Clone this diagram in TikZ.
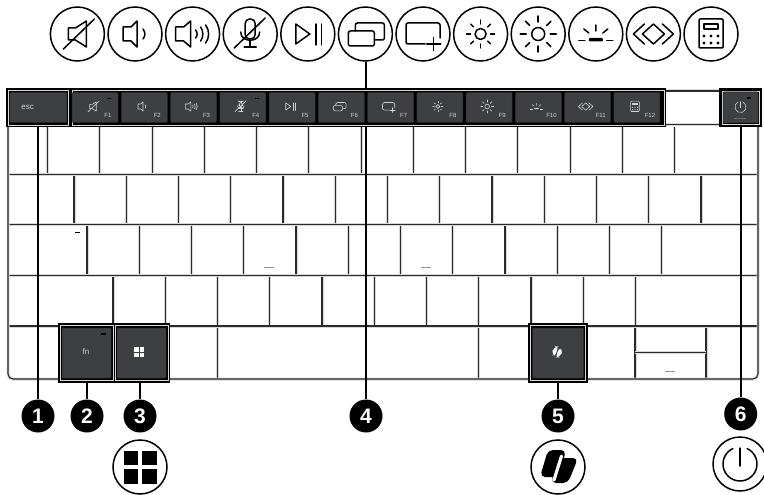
\documentclass[tikz,border=0pt]{standalone}
\usepackage{fontspec}
\usepackage{tikz}
\usetikzlibrary{calc,positioning}
\setmainfont{Liberation Sans}
\definecolor{keydark}{HTML}{3D3F41}
\definecolor{keyrule}{HTML}{2A2A2A}
\definecolor{keyshade}{HTML}{D8D8D8}
\definecolor{keytext}{HTML}{D2D2D2}
\colorlet{iconback}{white}
\tikzset{
 iconpen/.style={line width=1.5pt,line cap=round,line join=round},
 gappen/.style={line width=3.2pt},
 smallicon/.style={iconpen/.style={line width=.6pt,line cap=round,line join=round},gappen/.style={line width=1pt}},
 mute/.pic={
  \draw[iconpen] (-9,-6)--(-2,-6)--(9,-13)--(9,13)--(-2,6)--(-9,6)--cycle;
  \draw[iconpen] (-14,15)--(17,-15);},
 voldown/.pic={
  \draw[iconpen] (-12,-7)--(-4,-7)--(2,-13)--(2,13)--(-4,7)--(-12,7)--cycle;
  \draw[iconpen] (8,-5) .. controls (10.5,-2) and (10.5,2) .. (8,5);},
 volup/.pic={
  \draw[iconpen] (-17,-7)--(-9,-7)--(-2,-13)--(-2,13)--(-9,7)--(-17,7)--cycle;
  \draw[iconpen] (3,-4) .. controls (5,-2) and (5,2) .. (3,4);
  \draw[iconpen] (8,-7) .. controls (11,-3) and (11,3) .. (8,7);
  \draw[iconpen] (13,-9) .. controls (17,-4) and (17,4) .. (13,9);},
 micoff/.pic={
  \draw[iconpen,rounded corners=4.5] (-5,-15) rectangle (5,5);
  \draw[iconpen] (-9.5,-2) .. controls (-9.5,9) and (9.5,9) .. (9.5,-2);
  \draw[iconpen] (0,7)--(0,13) (-6,13)--(6,13);
  \draw[iconpen] (-16,14)--(15,-16);},
 playpause/.pic={
  \draw[iconpen] (-12,-10)--(2,0)--(-12,10)--cycle;
  \draw[iconpen] (8,-10)--(8,11) (13.7,-10)--(13.7,11);},
 windows/.pic={
  \draw[iconpen,rounded corners=2] (-17,-3) rectangle (9,12);
  \draw[iconpen,rounded corners=2] (-10,-3)--(-10,-11)--(19,-11)--(19,6)--(10,6);},
 addwindow/.pic={
  \draw[iconpen,rounded corners=2] (2,10)--(-17,10)--(-17,-11)--(17,-11)--(17,4);
  \draw[iconpen] (3.7,10)--(17.7,10) (10.7,3.5)--(10.7,16.5);},
 sunlow/.pic={
  \draw[iconpen] (0,0) circle (5.5);
  \foreach \a in {0,45,...,315} \draw[iconpen] (\a:10)--(\a:14);},
 sunhigh/.pic={
  \draw[iconpen] (0,0) circle (6.5);
  \foreach \a in {0,45,...,315} \draw[iconpen] (\a:12)--(\a:18);},
 kbdlight/.pic={
  \fill[rounded corners=1] (-7,4) rectangle (7,7.5);
  \draw[iconpen] (-17,6.5)--(-11,6.5) (11,6.5)--(17,6.5);
  \draw[iconpen] (0,-9)--(0,-3) (-12,-5)--(-7,-1) (12,-5)--(7,-1);},
 diamonds/.pic={
  \draw[iconpen] (0,-10)--(11,0)--(0,10)--(-11,0)--cycle;
  \draw[iconpen] (-9,-10)--(-20,0)--(-9,10) (9,-10)--(20,0)--(9,10);},
 calculator/.pic={
  \draw[iconpen,rounded corners=1] (-12,-15) rectangle (12,14);
  \draw[iconpen] (-7,-10) rectangle (7,-5);
  \foreach \x in {-7,0,7} \foreach \y in {2,9} \fill (\x,\y) circle (1.7);},
 winlogo/.pic={
  \fill (-16.5,-16.5) rectangle (16.5,16.5);
  \draw[iconback,gappen] (0,-16.5)--(0,16.5) (-16.5,0)--(16.5,0);},
 copilot/.pic={
  \fill[rounded corners=5] (-10,-17)--(8,-17)--(1,10)--(-18,10)--cycle;
  \fill[rounded corners=5] (0,-9)--(20,-9)--(10,16)--(-7,16)--cycle;
  \draw[iconback,gappen,line cap=round] (3.5,-11)--(-4,13);},
 powerbtn/.pic={
  \draw[iconpen] (-65:17) arc[start angle=-65,end angle=245,radius=17];
  \draw[iconpen] (0,-16)--(0,2);},
}
\begin{document}
\begin{tikzpicture}[x=1pt,y=-1pt,font=\small,
 iconring/.style={circle,draw=black,line width=1.5pt,fill=white,minimum size=54pt,inner sep=0pt},
 badge/.style={circle,fill=black,text=white,minimum size=33pt,inner sep=0pt,font=\fontsize{21}{21}\selectfont\bfseries},
 keybox/.style 2 args={rectangle,inner sep=0pt,outer sep=0pt,minimum width=#1,minimum height=#2},
 darkkey/.style={draw=keyrule,line width=.5pt,fill=keydark,rounded corners=1pt,text=keytext},
 whiteframe/.style={draw=keyshade,line width=.8pt,fill=black},
 keyline/.style={draw=keyrule,line width=1.1pt,preaction={draw=keyshade,line width=3pt}},
 leader/.style={draw=black,line width=1.7pt},
 flabel/.style={text=keytext,inner sep=0pt,font=\fontsize{6}{6}\selectfont},
 keymark/.style={draw=black,line width=1.2pt},
 greymark/.style={draw=keytext!70!black,line width=.8pt}]
 \useasboundingbox (0,0) rectangle (764,495);
 \fill[white] (0,0) rectangle (764,495);
 \foreach \ya/\yb/\xs/\xn in {127/174.5/47.6/13,174.5/224.5/74/13,224.5/275.5/87/12,275.5/326/113/11}{
  \foreach \n in {1,...,\xn}{
   \pgfmathsetmacro{\xk}{\xs+52.25*(\n-1)}
   \draw[keyline] (\xk,\ya)--(\xk,\yb);
  }
 }
 \foreach \x in {217.7,478.7,635,706}
  \draw[keyline] (\x,326)--(\x,379);
 \foreach \y in {174.5,224.5,275.5,326}
  \draw[keyline] (8,\y)--(758,\y);
 \draw[keyline] (635,352.7)--(706,352.7);
 \draw[keyline] (666,91)--(719,91);
 \draw[keyline] (666,124.5)--(719,124.5);
 \draw[keyline,rounded corners=5pt] (8,127)--(8,379)--(758,379)--(758,127);
 \draw[greymark] (264,267)--(274,267);
 \draw[greymark] (421,267)--(431,267);
 \draw[greymark] (665,371.7)--(675,371.7);
 \draw[keymark] (75,232.7)--(79.5,232.7);
 \node[keybox={660pt}{39pt},fill=black] (fbar) at (336,107.5) {};
 \node[keybox={43pt}{39pt},fill=black] (powerbar) at (740.5,107.5) {};
 \node[keybox={112pt}{60pt},fill=black] (modbar) at (114,353) {};
 \node[keybox={60pt}{60pt},fill=black] (copilotbar) at (558,353) {};
 \node[keybox={60pt}{35pt},whiteframe] (escframe) at (38,107.5) {};
 \node[keybox={592pt}{35pt},whiteframe] (fframe) at (368,107.5) {};
 \node[keybox={57pt}{30pt},darkkey] (esckey) at (38.3,107.5) {};
 \node[text=keytext,inner sep=0pt,font=\fontsize{8}{8}\selectfont] (esctext) at (27.7,107) {esc};
 \foreach \i/\ic in {1/mute,2/voldown,3/volup,4/micoff,5/playpause,6/windows,7/addwindow,8/sunlow,9/sunhigh,10/kbdlight,11/diamonds,12/calculator}{
  \pgfmathsetmacro{\xi}{77.4+57.6*(\i-1)}
  \node[iconring] (ico\i) at (\xi,34) {};
  \pic[color=black] at (ico\i) {\ic};
  \pgfmathsetmacro{\xf}{95+49.27*(\i-1)}
  \node[keybox={46pt}{30pt},darkkey] (fk\i) at (\xf,107.5) {};
  \begin{scope}[smallicon,color=keytext]
   \pic[scale=.36] at ([shift={(-2,-1)}]fk\i) {\ic};
  \end{scope}
  \node[flabel] (fl\i) at ([shift={(13,8)}]fk\i) {F\i};
 }
 \draw[keymark] (fk1.center)++(12,-9)--++(4,0);
 \draw[keymark] (fk4.center)++(12,-9)--++(4,0);
 \node[keybox={37pt}{33pt},whiteframe] (powerframe) at (740.5,107.5) {};
 \node[keybox={35pt}{31pt},darkkey] (powerkey) at (740.5,107.5) {};
 \begin{scope}[smallicon,color=keytext]
  \pic[scale=.33] at (740.5,107) {powerbtn};
 \end{scope}
 \draw[keymark] (746.5,98)--(751,98);
 \draw[draw=keytext!50!black,line width=.8pt] (734,118)--(746,118);
 \node[keybox={53pt}{55pt},whiteframe] (fnframe) at (86.5,353) {};
 \node[keybox={53pt}{55pt},whiteframe] (winframe) at (141.5,353) {};
 \node[keybox={55pt}{55pt},whiteframe] (copilotframe) at (558,353) {};
 \node[keybox={49pt}{50pt},darkkey] (fnkey) at (86.5,353) {};
 \node[keybox={49pt}{50pt},darkkey] (winkey) at (141.5,353) {};
 \node[keybox={51pt}{50pt},darkkey] (copilotkey) at (558,353) {};
 \node[text=keytext,inner sep=0pt,font=\fontsize{8}{8}\selectfont] (fntext) at (86,352) {fn};
 \draw[keymark] (101,334)--(105.5,334);
 \begin{scope}[smallicon,color=white]
  \colorlet{iconback}{keydark}
  \pic[scale=.33] at (139,352) {winlogo};
  \pic[scale=.33] at (557,352) {copilot};
 \end{scope}
 \foreach \i/\x/\y in {1/38/416,2/87/416,3/140/416,4/366/416,5/558/416,6/740.7/414}
  \node[badge] (badge\i) at (\x,\y) {\i};
 \node[iconring] (winicon) at (140,467) {};
 \pic[color=black] at (winicon) {winlogo};
 \node[iconring] (copiloticon) at (558,467) {};
 \pic[color=black] at (copiloticon) {copilot};
 \node[iconring] (powericon) at (740,464) {};
 \pic[color=black] at (powericon) {powerbtn};
 \draw[leader] (badge4 |- ico6.south)--(badge4 |- fbar.north);
 \draw[leader] (badge1)--(badge1 |- fbar.south);
 \draw[leader] (badge2)--(badge2 |- modbar.south);
 \draw[leader] (badge3)--(badge3 |- modbar.south);
 \draw[leader] (badge4)--(badge4 |- fbar.south);
 \draw[leader] (badge5)--(copilotbar);
 \draw[leader] (badge6)--(badge6 |- powerbar.south);
\end{tikzpicture}
\end{document}
